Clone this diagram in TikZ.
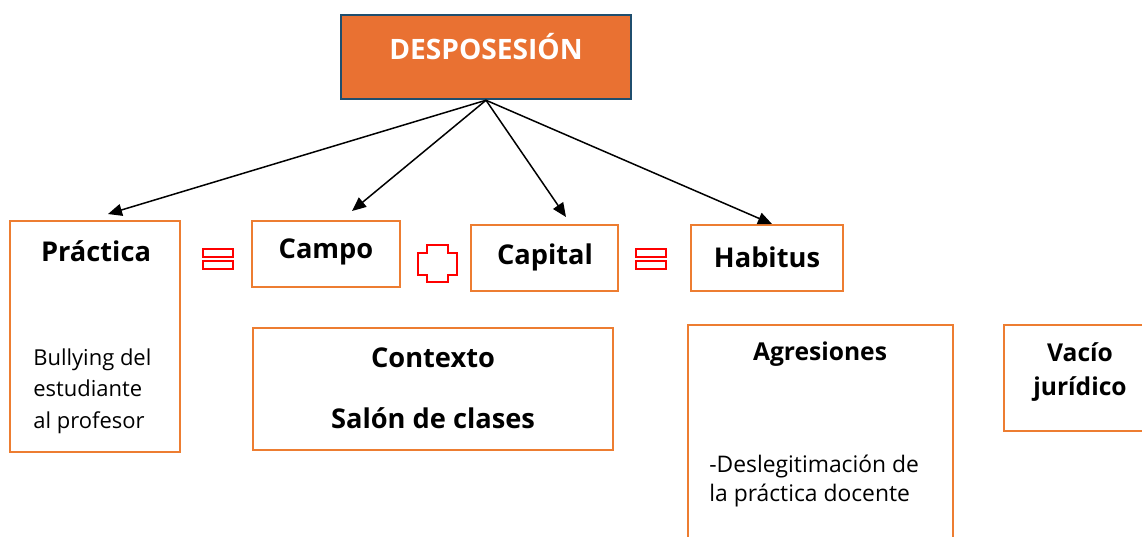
\documentclass[tikz,border=0pt]{standalone}
\usepackage{fontspec}
\setmainfont{Open Sans}
\usetikzlibrary{arrows.meta}
\definecolor{boxorange}{HTML}{ED7D31}
\definecolor{headfill}{HTML}{E97132}
\definecolor{headline}{HTML}{1F4E6E}

\begin{document}
\begin{tikzpicture}[x=0.02cm, y=-0.02cm,
    box/.style={rectangle,draw=boxorange,line width=0.04cm,inner sep=0pt},
    title/.style={font=\fontsize{15.5}{18}\selectfont\bfseries},
    body/.style={font=\fontsize{12.5}{18}\selectfont,align=left,inner sep=0pt},
    link/.style={-{Triangle[length=0.28cm,width=0.24cm]},line width=0.03cm},
    sign/.style={draw=red,line width=0.05cm}]
  \useasboundingbox (0,0) rectangle (1142,537);
  \clip (0,0) rectangle (1142,537);

  % Head
  \node[rectangle,draw=headline,fill=headfill,line width=0.05cm,minimum width=5.8cm,minimum height=1.68cm] (desp) at (486,57) {};
  \node[font=\fontsize{16}{18}\selectfont\bfseries,text=white] (desptxt) at (486,47) {DESPOSESIÓN};

  % Top row
  \node[box,minimum width=3.4cm,minimum height=4.62cm] (prac) at (95,336.5) {};
  \node[title] (practxt) at (96,251) {Práctica};
  \node[body,anchor=west] (pracbody) at (33,391) {Bullying del\\estudiante\\al profesor};

  \node[box,minimum width=2.96cm,minimum height=1.32cm] (campo) at (326,254) {};
  \node[title] (campotxt) at (326,252) {Campo};

  \node[box,minimum width=2.94cm,minimum height=1.32cm] (capital) at (544.5,258) {};
  \node[title] (capitaltxt) at (545,257) {Capital};

  \node[box,minimum width=3.04cm,minimum height=1.32cm] (habitus) at (767,258) {};
  \node[title] (habitustxt) at (767,257) {Habitus};

  % Lower row
  \node[box,minimum width=7.2cm,minimum height=2.44cm] (ctx) at (433,389) {};
  \node[title] (ctxtxt) at (433,358) {Contexto};
  \node[title] (salontxt) at (433,418) {Salón de clases};

  \node[box,minimum width=5.3cm,minimum height=4.7cm] (agr) at (820.5,442.5) {};
  \node[title,font=\fontsize{14}{16}\selectfont\bfseries] (agrtxt) at (820,354) {Agresiones};
  \node[body,anchor=west,font=\fontsize{13}{17}\selectfont] (agrbody) at (709,481) {-Deslegitimación de\\la práctica docente};

  \node[box,minimum width=3.52cm,minimum height=2.12cm] (vacio) at (1092,378) {};
  \node[title,align=center,font=\fontsize{14}{19.5}\selectfont\bfseries] (vaciotxt) at (1080,372) {Vacío\\jurídico};

  % Signs
  \foreach \y in {249,261} {
    \draw[sign] (203,\y) rectangle (233,\y+8);
    \draw[sign] (636,\y) rectangle (666,\y+8);
  }
  \draw[sign] (427,245) -- (448,245) -- (448,253) -- (457,253) -- (457,275) -- (448,275)
    -- (448,282) -- (427,282) -- (427,275) -- (418,275) -- (418,253) -- (427,253) -- cycle;

  % Arrows
  \draw[link] (desp.south) -- ([xshift=0.26cm,yshift=0.12cm]prac.north);
  \draw[link] (desp.south) -- ([xshift=0.52cm,yshift=0.18cm]campo.north);
  \draw[link] (desp.south) -- ([xshift=0.43cm,yshift=0.14cm]capital.north);
  \draw[link] (desp.south) -- ([xshift=0.1cm]habitus.north);
\end{tikzpicture}
\end{document}
